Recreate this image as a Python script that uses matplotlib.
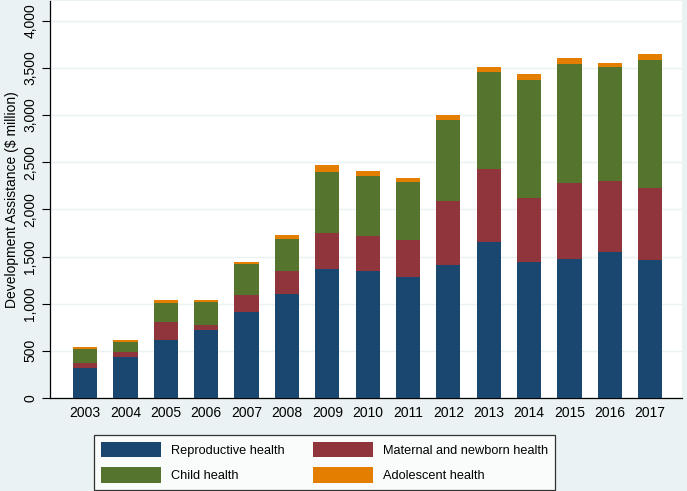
import matplotlib
matplotlib.use("Agg")
import matplotlib.pyplot as plt
from matplotlib.patches import Patch

years = [2003, 2004, 2005, 2006, 2007, 2008, 2009, 2010, 2011, 2012, 2013, 2014, 2015, 2016, 2017]
reproductive = [318, 434, 618, 717, 911, 1105, 1363, 1352, 1281, 1412, 1652, 1444, 1469, 1553, 1461]
maternal = [56, 53, 187, 60, 176, 240, 391, 371, 392, 674, 777, 681, 808, 749, 763]
child = [148, 110, 205, 236, 336, 342, 639, 635, 614, 865, 1030, 1250, 1260, 1203, 1359]
adolescent = [18, 14, 28, 25, 24, 43, 82, 53, 46, 49, 50, 63, 67, 46, 67]
series_names = ["Reproductive health", "Maternal and newborn health", "Child health", "Adolescent health"]
colors = ["#1a476f", "#90353b", "#55752f", "#e37e00"]
yticks = [0, 500, 1000, 1500, 2000, 2500, 3000, 3500, 4000]

plt.rcParams['font.family'] = ['Liberation Sans', 'DejaVu Sans']
fs_tick = 10
fs_label = 10
fs_leg = 9.2

fig = plt.figure(figsize=(6.87, 4.91), dpi=100)
fig.patch.set_facecolor("#eaf2f3")
W, H = 687, 491
ax = fig.add_axes([50 / W, 1 - 398 / H, (682 - 50) / W, 397 / H])
ax.set_facecolor("white")

series = [reproductive, maternal, child, adolescent]
bottom = [0] * len(years)
for vals, col in zip(series, colors):
    ax.bar(years, vals, bottom=bottom, width=0.6, color=col, linewidth=0, zorder=3)
    bottom = [b + v for b, v in zip(bottom, vals)]

ax.set_xlim(2002.13, 2017.79)
ax.set_ylim(0, 4210)
ax.set_yticks(yticks)
ax.set_yticklabels([f"{t:,}" for t in yticks], rotation=90, va="center", fontsize=fs_tick)
ax.set_xticks(years)
ax.set_xticklabels([str(y) for y in years], fontsize=fs_tick)
ax.tick_params(axis="x", length=0, pad=6)
ax.tick_params(axis="y", length=6, width=0.8, pad=3)
ax.grid(axis="y", color="#eaf2f3", linewidth=1.0, zorder=0)
ax.set_axisbelow(True)
for s in ["top", "right"]:
    ax.spines[s].set_visible(False)
for s in ["left", "bottom"]:
    ax.spines[s].set_linewidth(0.9)
    ax.spines[s].set_color("black")
ax.set_ylabel("Development Assistance ($ million)", fontsize=fs_label, labelpad=3)

handles = [Patch(facecolor=c, edgecolor="none") for c in colors]
order = [0, 2, 1, 3]
leg = fig.legend([handles[i] for i in order], [series_names[i] for i in order],
                 ncol=2, loc="lower left", bbox_to_anchor=(94 / W, 1 / H),
                 fontsize=fs_leg, frameon=True, fancybox=False, edgecolor="black",
                 handlelength=4.7, handleheight=1.49, handletextpad=0.78,
                 columnspacing=2.2, labelspacing=0.8, borderpad=0.55,
                 borderaxespad=0)
leg.get_frame().set_linewidth(0.9)
leg.get_frame().set_facecolor("white")

fig.savefig("out.png", dpi=100, facecolor=fig.get_facecolor())
